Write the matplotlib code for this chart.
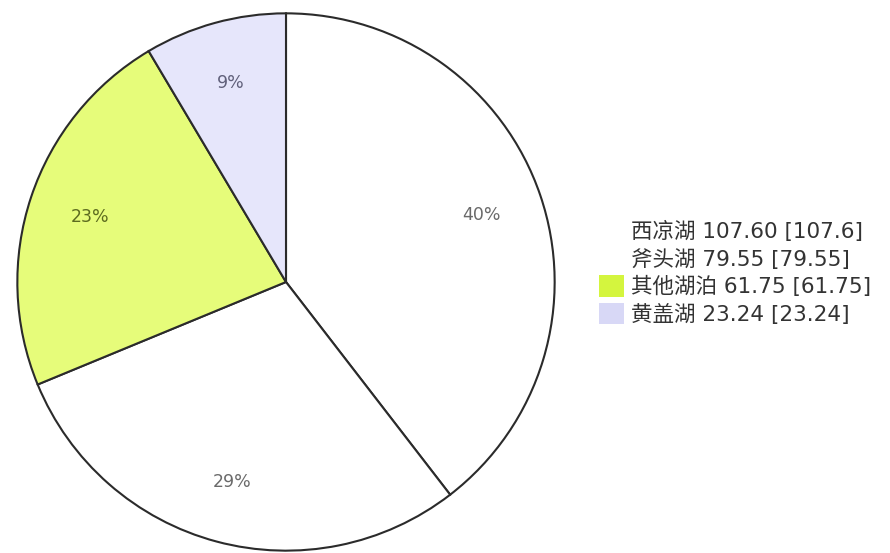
import matplotlib.pyplot as plt
from matplotlib.patches import Patch

plt.rcParams["font.family"] = ["DejaVu Sans", "Noto Sans CJK SC"]

# lake areas
lakes = ["西凉湖", "斧头湖", "其他湖泊", "黄盖湖"]
areas = [107.60, 79.55, 61.75, 23.24]
slice_colors = ["#ffffff", "#ffffff", "#e6fc7a", "#e6e6fb"]
legend_colors = ["#ffffff", "#ffffff", "#d4f53e", "#d8d8f6"]
pct_colors = ["#6a6a6a", "#6a6a6a", "#5c6b1f", "#60607a"]

fig = plt.figure(figsize=(8.9, 5.53), dpi=100)
ax = fig.add_axes([16 / 890, 1 / 553, 540 / 890, 540 / 553])

wedges, texts, autotexts = ax.pie(
    areas,
    colors=slice_colors,
    startangle=90,
    counterclock=False,
    autopct="%1.0f%%",
    pctdistance=0.77,
    wedgeprops={"edgecolor": "#2b2b2b", "linewidth": 1.5},
    textprops={"fontsize": 12.5},
)
for t, c in zip(autotexts, pct_colors):
    t.set_color(c)

ax.set_xlim(-1.005, 1.005)
ax.set_ylim(-1.005, 1.005)
ax.set_aspect("equal")
ax.axis("off")

handles = [Patch(facecolor=c, edgecolor="none") for c in legend_colors]
labels = [f"{n} {v:.2f} [{v:g}]" for n, v in zip(lakes, areas)]
fig.legend(
    handles,
    labels,
    loc="upper left",
    bbox_to_anchor=(599 / 890, 1 - 220 / 553),
    frameon=False,
    fontsize=15.5,
    labelcolor="#333333",
    handlelength=1.15,
    handleheight=1.15,
    handletextpad=0.35,
    labelspacing=0.26,
    borderpad=0,
    borderaxespad=0,
)

plt.savefig("out.png", dpi=100)
plt.close()
